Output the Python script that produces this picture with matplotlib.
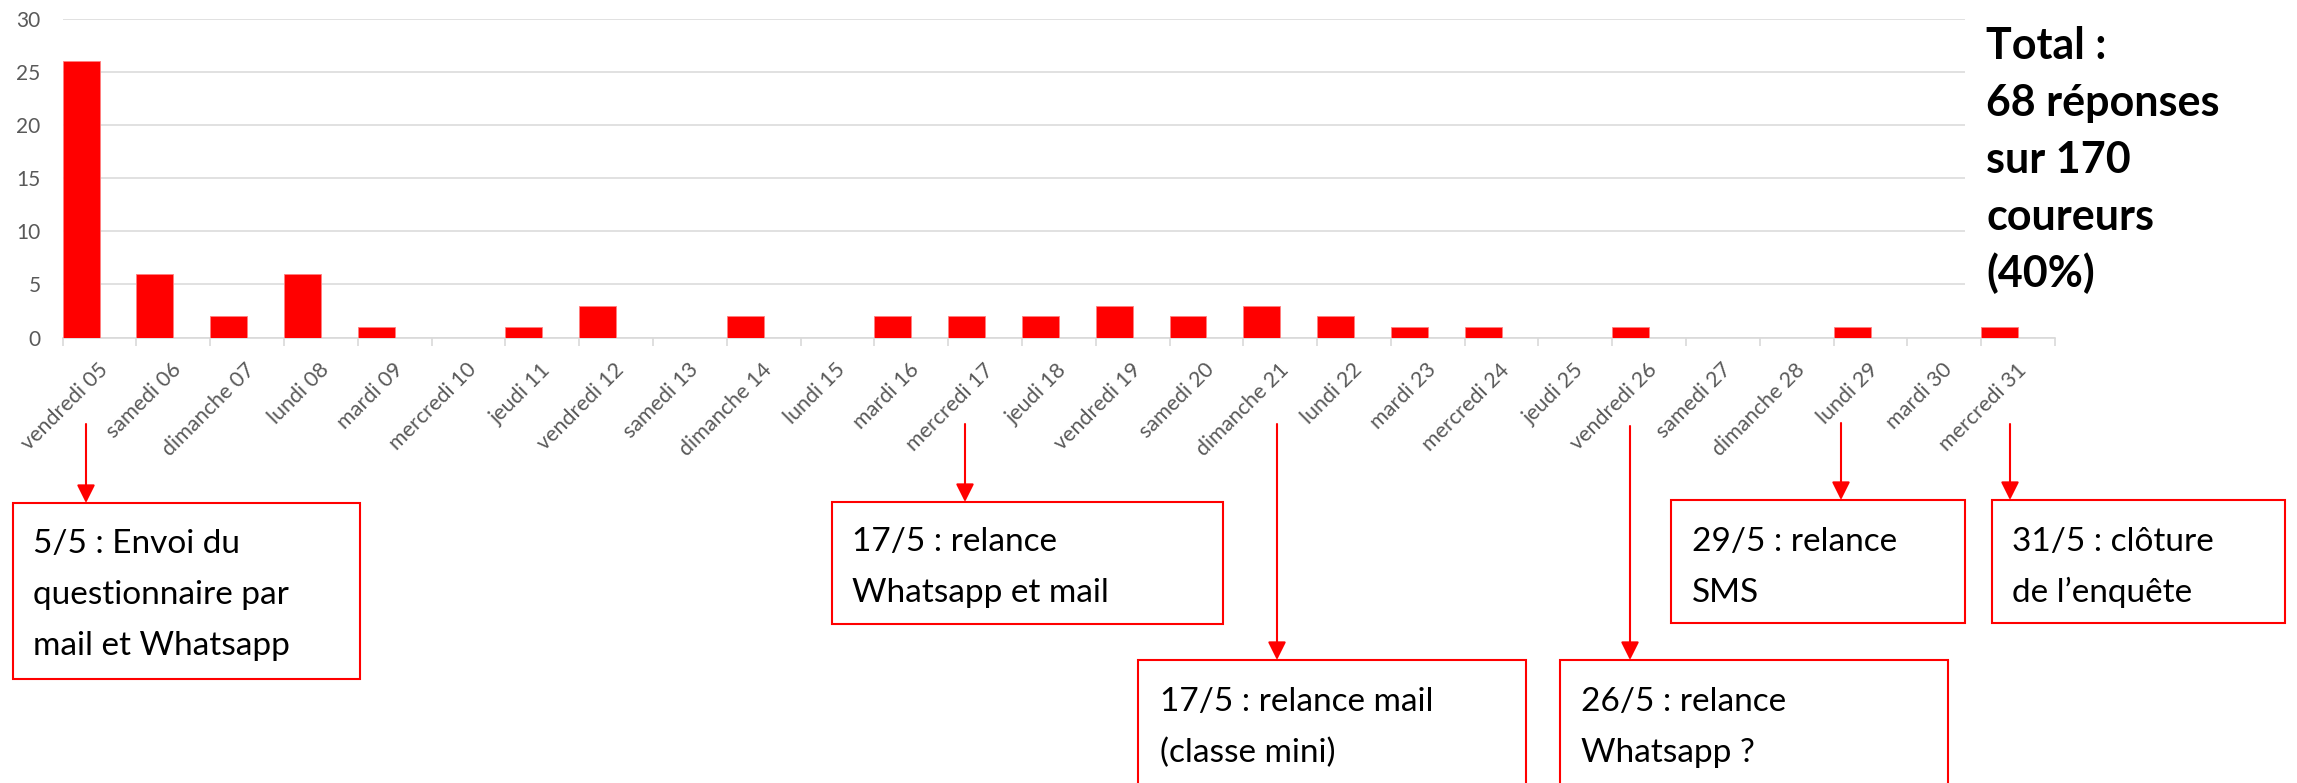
import matplotlib
matplotlib.use("Agg")
import matplotlib.pyplot as plt
from matplotlib.patches import Rectangle
from matplotlib.transforms import ScaledTranslation
import numpy as np

plt.rcParams['font.family'] = ['Lato', 'DejaVu Sans']

# ---- data ----
days = ["vendredi 05", "samedi 06", "dimanche 07", "lundi 08", "mardi 09",
        "mercredi 10", "jeudi 11", "vendredi 12", "samedi 13", "dimanche 14",
        "lundi 15", "mardi 16", "mercredi 17", "jeudi 18", "vendredi 19",
        "samedi 20", "dimanche 21", "lundi 22", "mardi 23", "mercredi 24",
        "jeudi 25", "vendredi 26", "samedi 27", "dimanche 28", "lundi 29",
        "mardi 30", "mercredi 31"]
responses = [26, 6, 2, 6, 1, 0, 1, 3, 0, 2, 0, 2, 2, 2, 3, 2, 3, 2, 1, 1,
             0, 1, 0, 0, 1, 0, 1]
yticks = [0, 5, 10, 15, 20, 25, 30]
total_lines = ["Total :", "68 réponses", "sur 170", "coureurs", "(40%)"]
notes = [["5/5 : Envoi du", "questionnaire par", "mail et Whatsapp"],
         ["17/5 : relance", "Whatsapp et mail"],
         ["17/5 : relance mail", "(classe mini)"],
         ["26/5 : relance", "Whatsapp ?"],
         ["29/5 : relance", "SMS"],
         ["31/5 : clôture", "de l\u2019enquête"]]

W, H = 2297, 783
fig = plt.figure(figsize=(W / 100, H / 100), dpi=100)
fig.patch.set_facecolor("white")

def fx(x):
    return x / W

def fy(y):
    return 1 - y / H

ax_left, ax_right, ax_top, ax_bot = 62.7, 2055, 19, 337.5
ax = fig.add_axes([fx(ax_left), fy(ax_bot), fx(ax_right - ax_left), (ax_bot - ax_top) / H])

x = np.arange(len(days))
ax.bar(x - 0.25, responses, width=0.5, color="#FF0000", edgecolor="#FF8080",
       linewidth=0.6, zorder=3)
ax.set_xlim(-0.5, len(days) - 0.5)
ax.set_ylim(0, 30)
ax.set_yticks(yticks)
ax.yaxis.grid(True, color="#D9D9D9", linewidth=1.1, zorder=0)
ax.set_axisbelow(True)
for s in ["top", "right", "left"]:
    ax.spines[s].set_visible(False)
ax.spines["bottom"].set_color("#D9D9D9")
ax.spines["bottom"].set_linewidth(1.2)
ax.tick_params(axis="y", length=0, pad=16, labelsize=15, labelcolor="#595959")

ax.set_xticks(x)
ax.set_xticklabels(days, rotation=45, ha="right", va="center",
                   rotation_mode="anchor", fontsize=15.5, color="#595959")
ax.tick_params(axis="x", which="major", length=0, pad=21)
ax.set_xticks(np.arange(len(days) + 1) - 0.5, minor=True)
ax.tick_params(axis="x", which="minor", length=6, width=1.2, color="#D9D9D9")
for lab in ax.get_xticklabels():
    lab.set_transform(lab.get_transform() + ScaledTranslation(5 / 100, 0, fig.dpi_scale_trans))

# white text box for the total
fig.add_artist(Rectangle((fx(1965), fy(310)), fx(W - 1965), 310 / H,
                         transform=fig.transFigure, facecolor="white",
                         edgecolor="none", zorder=2))
for i, line in enumerate(total_lines):
    fig.text(fx(1986), fy(59 + i * 57), line, fontsize=31, fontweight="bold",
             color="black", va="baseline", ha="left", zorder=3)

# annotation boxes: (x0, y0, x1, y1), text left, first baseline, arrow (x, y_start)
boxes = [(13, 503, 360, 679), (832, 502, 1223, 624), (1138, 660, 1526, 820),
         (1560, 660, 1948, 820), (1671, 500, 1965, 623), (1992, 500, 2285, 623)]
text_left = [33, 852, 1160, 1581, 1692, 2012]
first_base = [553, 551, 711, 711, 551, 551]
arrows = [(86, 424), (965, 424), (1277, 424), (1630, 426), (1841, 423), (2010, 424)]

for (x0, y0, x1, y1), tl, fb, (axx, ays), lines in zip(boxes, text_left, first_base, arrows, notes):
    fig.add_artist(Rectangle((fx(x0), fy(y1)), fx(x1 - x0), (y1 - y0) / H,
                             transform=fig.transFigure, facecolor="white",
                             edgecolor="#FF0000", linewidth=1.5, zorder=2))
    for j, line in enumerate(lines):
        fig.text(fx(tl), fy(fb + j * 51), line, fontsize=24, color="black",
                 va="baseline", ha="left", zorder=3)
    ax.annotate("", xy=(axx, H - y0), xytext=(axx, H - ays),
                xycoords="figure pixels", textcoords="figure pixels",
                arrowprops=dict(arrowstyle="-|>,head_length=1.1,head_width=0.55",
                                mutation_scale=10, color="#FF0000", lw=1.5,
                                shrinkA=0, shrinkB=0),
                annotation_clip=False)

fig.savefig("out.png", dpi=100, facecolor="white")
